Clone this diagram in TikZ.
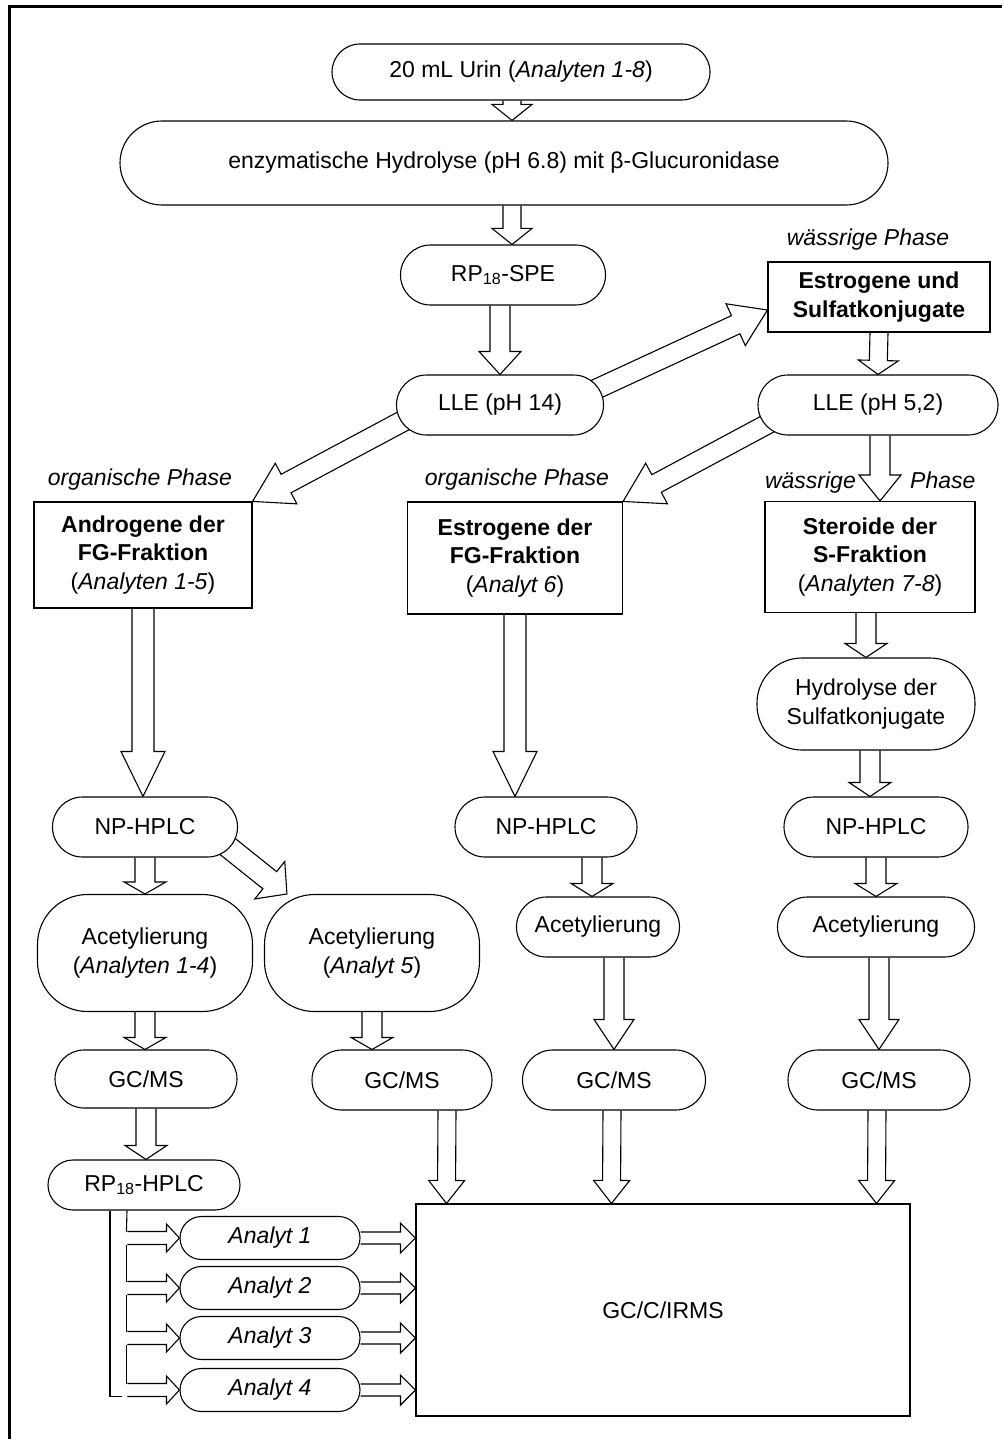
\documentclass[tikz,border=0pt]{standalone}
\usepackage{fontspec}
\setmainfont{Liberation Sans}
\usetikzlibrary{calc}

\pgfdeclarelayer{background}
\pgfsetlayers{background,main}

\newcommand{\nodefont}{\fontsize{23}{28.5}\selectfont}
% hollow block arrow: start, tip, half shaft, half head, head length
\newcommand{\blockarrow}[5]{%
  \path (#1) coordinate (ba-s) (#2) coordinate (ba-t);
  \path ($(ba-t)!#5!(ba-s)$) coordinate (ba-h);
  \draw[hollow] ($(ba-s)!#3!90:(ba-t)$) -- ($(ba-h)!#3!90:(ba-t)$)
    -- ($(ba-h)!#4!90:(ba-t)$) -- (ba-t) -- ($(ba-h)!#4!-90:(ba-t)$)
    -- ($(ba-h)!#3!-90:(ba-t)$) -- ($(ba-s)!#3!-90:(ba-t)$);
}

\tikzset{
  proc/.style={draw, fill=white, rectangle, rounded corners=#1, align=center,
    inner sep=0pt, line width=1.1pt, font=\nodefont},
  proc/.default=30pt,
  fbox/.style={draw, fill=white, rectangle, align=center, inner sep=0pt,
    line width=1.1pt, font=\nodefont\bfseries},
  phase/.style={font=\nodefont\itshape, inner sep=0pt},
  hollow/.style={draw, fill=white, line width=1.1pt, line join=miter},
}

\begin{document}
\begin{tikzpicture}[x=1pt, y=-1pt]
    \useasboundingbox (0,0) rectangle (1002,1439);
    % frame
    \draw[line width=3pt] (9,1439) -- (9,6.5) -- (1002,6.5);

    % Define nodes
    \node[proc=28pt, minimum width=378pt, minimum height=56pt] (urin) at (521,72) {20 mL Urin (\textit{Analyten 1-8})};
    \node[proc=42pt, minimum width=768pt, minimum height=84pt] (hydro) at (504,163) {enzymatische Hydrolyse (pH 6.8) mit β-Glucuronidase};
    \node[proc, minimum width=205pt, minimum height=60pt] (spe) at (503,275) {RP\textsubscript{18}-SPE};
    \node[proc, minimum width=207pt, minimum height=60pt] (lle14) at (500,405) {LLE (pH 14)};
    \node[fbox, minimum width=222pt, minimum height=70pt] (sulf) at (879,297) {Estrogene und\\Sulfatkonjugate};
    \node[phase] (wp1) at (868,240) {wässrige Phase};
    \node[proc, minimum width=240pt, minimum height=60pt] (lle52) at (878,405) {LLE (pH 5,2)};

    \node[phase] (op1) at (140,480) {organische Phase};
    \node[phase] (op2) at (517,480) {organische Phase};
    \node[phase, anchor=base east] (wp2) at (856,488) {wässrige};
    \node[phase, anchor=base west] (ph2) at (910,488) {Phase};
    \node[fbox, minimum width=218pt, minimum height=106pt] (andro) at (143,555) {Androgene der\\FG-Fraktion\\{\mdseries(\textit{Analyten 1-5})}};
    \node[fbox, minimum width=215pt, minimum height=112pt] (estfg) at (515,558) {Estrogene der\\FG-Fraktion\\{\mdseries(\textit{Analyt 6})}};
    \node[fbox, minimum width=210pt, minimum height=111pt] (sfrak) at (870,557) {Steroide der\\S-Fraktion\\{\mdseries(\textit{Analyten 7-8})}};
    \node[proc=45pt, minimum width=218pt, minimum height=92pt] (hysulf) at (866,704) {Hydrolyse der\\Sulfatkonjugate};

    \node[proc, minimum width=185pt, minimum height=60pt] (np1) at (145,827) {NP-HPLC};
    \node[proc, minimum width=182pt, minimum height=60pt] (np2) at (546,827) {NP-HPLC};
    \node[proc, minimum width=184pt, minimum height=60pt] (np3) at (876,827) {NP-HPLC};
    \node[proc=50pt, minimum width=215pt, minimum height=117pt] (ac1) at (145,953) {Acetylierung\\(\textit{Analyten 1-4})};
    \node[proc=50pt, minimum width=215pt, minimum height=117pt] (ac2) at (372,953) {Acetylierung\\(\textit{Analyt 5})};
    \node[proc, minimum width=163pt, minimum height=60pt] (ac3) at (598,927) {Acetylierung};
    \node[proc, minimum width=197pt, minimum height=60pt] (ac4) at (876,927) {Acetylierung};

    \node[proc=29pt, minimum width=182pt, minimum height=58pt] (gc1) at (146,1079) {GC/MS};
    \node[proc, minimum width=180pt, minimum height=60pt] (gc2) at (402,1080) {GC/MS};
    \node[proc, minimum width=183pt, minimum height=60pt] (gc3) at (614,1080) {GC/MS};
    \node[proc, minimum width=182pt, minimum height=60pt] (gc4) at (879,1080) {GC/MS};
    \node[proc=25pt, minimum width=192pt, minimum height=50pt] (rp) at (144,1185) {RP\textsubscript{18}-HPLC};

    \node[draw, fill=white, line width=1.1pt, font=\nodefont, minimum width=494pt, minimum height=212pt] (irms) at (663,1310) {GC/C/IRMS};
    \node[proc=21.5pt, font=\nodefont\itshape, minimum width=180pt, minimum height=43pt] (a1) at (270,1238) {Analyt 1};
    \node[proc=21.5pt, font=\nodefont\itshape, minimum width=180pt, minimum height=43pt] (a2) at (270,1288) {Analyt 2};
    \node[proc=21.5pt, font=\nodefont\itshape, minimum width=180pt, minimum height=43pt] (a3) at (270,1338) {Analyt 3};
    \node[proc=21.5pt, font=\nodefont\itshape, minimum width=180pt, minimum height=43pt] (a4) at (270,1390) {Analyt 4};

    % block arrows behind the nodes
    \begin{pgfonlayer}{background}
    \blockarrow{[xshift=-9pt]urin.south}{[xshift=8pt]hydro.north}{9pt}{20pt}{16pt}
    \blockarrow{[xshift=8pt]hydro.south}{[xshift=9pt]spe.north}{9pt}{20pt}{16pt}
    \blockarrow{[xshift=-3pt]spe.south}{lle14.north}{10pt}{21pt}{23pt}
    \blockarrow{[shift={(90pt,13pt)}]lle14.center}{[yshift=-13pt]sulf.west}{10pt}{23pt}{35pt}
    \blockarrow{[shift={(-95pt,-15pt)}]lle14.center}{andro.north east}{10.5pt}{23pt}{38pt}
    \blockarrow{sulf.south}{lle52.north}{9pt}{20pt}{14pt}
    \blockarrow{[shift={(-103pt,-15pt)}]lle52.center}{estfg.north east}{10pt}{23pt}{38pt}
    \blockarrow{[xshift=2pt]lle52.south}{[xshift=10pt]sfrak.north}{10pt}{21pt}{26pt}

    \blockarrow{andro.south}{[xshift=-2pt]np1.north}{11pt}{22pt}{45pt}
    \blockarrow{estfg.south}{[xshift=-31pt]np2.north}{11pt}{22pt}{45pt}
    \blockarrow{[xshift=-4pt]sfrak.south}{hysulf.north}{10pt}{21pt}{14pt}
    \blockarrow{[xshift=4pt]hysulf.south}{[xshift=-6pt]np3.north}{10pt}{21pt}{14pt}

    \blockarrow{np1.south}{ac1.north}{10pt}{21pt}{12pt}
    \blockarrow{[shift={(77pt,-15pt)}]np1.center}{[xshift=23pt]ac2.north west}{11pt}{24pt}{22pt}
    \blockarrow{[xshift=46pt]np2.south}{[xshift=-6pt]ac3.north}{10pt}{21pt}{13pt}
    \blockarrow{np3.south}{ac4.north}{10pt}{21pt}{13pt}

    \blockarrow{ac1.south}{[xshift=-1pt]gc1.north}{10pt}{21pt}{12pt}
    \blockarrow{ac2.south}{[xshift=-30pt]gc2.north}{10pt}{21pt}{12pt}
    \blockarrow{[xshift=16pt]ac3.south}{gc3.north}{10pt}{20pt}{30pt}
    \blockarrow{[xshift=3pt]ac4.south}{gc4.north}{10pt}{20pt}{30pt}

    \blockarrow{gc1.south}{[xshift=2pt]rp.north}{10pt}{21pt}{14pt}
    \blockarrow{[xshift=45pt]gc2.south}{[xshift=31pt]irms.north west}{9pt}{18pt}{23pt}
    \blockarrow{[xshift=-2pt]gc3.south}{[xshift=196pt]irms.north west}{9pt}{18pt}{23pt}
    \blockarrow{[xshift=-2pt]gc4.south}{[xshift=461pt]irms.north west}{9pt}{18pt}{23pt}

    % RP18-HPLC fractions
    \blockarrow{[xshift=-52pt]a1.west}{a1.west}{6.5pt}{14pt}{13pt}
    \blockarrow{[xshift=-52pt]a2.west}{a2.west}{6.5pt}{14pt}{13pt}
    \blockarrow{[xshift=-52pt]a3.west}{a3.west}{6.5pt}{14pt}{13pt}
    \blockarrow{[xshift=-52pt]a4.west}{a4.west}{6.5pt}{14pt}{13pt}
    \blockarrow{a1.east}{a1.east -| irms.west}{6pt}{15pt}{15pt}
    \blockarrow{a2.east}{a2.east -| irms.west}{6pt}{15pt}{15pt}
    \blockarrow{a3.east}{a3.east -| irms.west}{6pt}{15pt}{15pt}
    \blockarrow{a4.east}{a4.east -| irms.west}{6pt}{15pt}{15pt}
    \end{pgfonlayer}

    % split lines below RP18-HPLC
    \draw[line width=1.1pt] ([xshift=-34pt]rp.south) |- ([shift={(-57pt,-6.5pt)}]a4.west);
    \draw[line width=1.1pt] ([xshift=-17pt]rp.south) -- ([shift={(-53pt,6.5pt)}]a1.west);
    \draw[line width=1.1pt] ([shift={(-53pt,-6.5pt)}]a1.west) -- ([shift={(-53pt,6.5pt)}]a2.west);
    \draw[line width=1.1pt] ([shift={(-53pt,-6.5pt)}]a2.west) -- ([shift={(-53pt,6.5pt)}]a3.west);
    \draw[line width=1.1pt] ([shift={(-53pt,-6.5pt)}]a3.west) -- ([shift={(-53pt,6.5pt)}]a4.west);
\end{tikzpicture}
\end{document}
